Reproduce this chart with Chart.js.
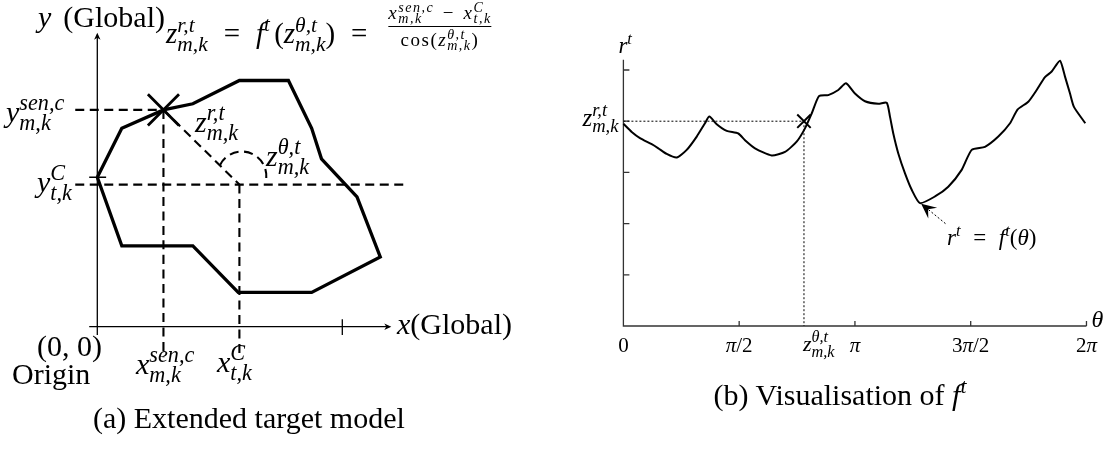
<!DOCTYPE html>
<html><head><meta charset="utf-8">
<script src="https://cdn.jsdelivr.net/npm/chart.js@4.4.1/dist/chart.umd.min.js"></script>
<style>
html,body{margin:0;padding:0;background:#fff;}
#wrap{position:relative;width:1105px;height:450px;overflow:hidden;background:#fff;}
.cv{position:absolute;top:0;}
.lbl{position:absolute;white-space:nowrap;font-family:"Liberation Serif","Times New Roman",serif;line-height:1.3;color:#000;}
.lbl i{font-style:italic;}
.ss{display:inline-block;vertical-align:-0.338em;font-size:0.74em;line-height:0.88;font-style:italic;text-align:left;}
.ss>span{display:block;}
.sp{font-size:0.72em;vertical-align:0.56em;line-height:0;font-style:italic;}
.rel{margin:0 0.55em;}
.frac{display:flex;flex-direction:column;align-items:center;line-height:0.9;letter-spacing:1.5px;}
.frac .ss{line-height:0.8;vertical-align:-0.3em;}
.frac .bar{align-self:stretch;border-top:1.3px solid #000;height:0;margin:1px 0 2px 0;}
</style></head>
<body><div id="wrap">
<canvas id="cA" class="cv" width="560" height="450" style="left:0;width:560px;height:450px"></canvas>
<canvas id="cB" class="cv" width="545" height="450" style="left:560px;width:545px;height:450px"></canvas>
</div>
<script>
// ---------- (a) Extended target model : data in "Global" units ----------
const polyX = [0, 1, 2.7, 3.9, 5.8, 7.8, 8.75, 9.15, 10.6, 11.55, 8.75, 5.75, 3.9, 1, 0];
const polyY = [6.1, 8.1, 8.85, 9.1, 10.05, 10.05, 8.1, 6.85, 5.3, 2.85, 1.4, 1.4, 3.3, 3.3, 6.1];
const sensorPt = [2.7, 8.85];     // (x^{sen,c}, y^{sen,c})
const centrePt = [5.8, 5.8];      // (x^C, y^C)
const axisEndA = 12;              // both axes end
const xTickA = 10;
const yTickA = 6.1;
const guideLeft = -0.9, guideRight = 12.5, guideBottom = -1.25;
const arcCentre = [5.9, 6.15], arcRadius = 1.0, arcFromDeg = -17, arcToDeg = 153;

// ---------- (b) Visualisation of f^t ----------
const thetaVals = [0, 0.113, 0.225, 0.384, 0.474, 0.588, 0.723, 0.859, 0.995, 1.107,
  1.166, 1.266, 1.402, 1.559, 1.650, 1.786, 2.012, 2.193, 2.351, 2.464,
  2.555, 2.654, 2.780, 2.916, 3.020, 3.142, 3.278, 3.459, 3.573, 3.617,
  3.662, 3.730, 3.821, 3.912, 4.024, 4.228, 4.408, 4.590, 4.726, 4.906,
  5.087, 5.246, 5.350, 5.494, 5.608, 5.720, 5.811, 5.924, 5.992, 6.060, 6.113, 6.267];
const rVals = [3.95, 3.79, 3.67, 3.55, 3.47, 3.36, 3.29, 3.44, 3.70, 3.96,
  4.09, 3.94, 3.81, 3.76, 3.63, 3.47, 3.33, 3.40, 3.60, 3.86,
  4.15, 4.49, 4.51, 4.61, 4.74, 4.54, 4.39, 4.34, 4.36, 4.09,
  3.76, 3.37, 2.98, 2.66, 2.40, 2.53, 2.72, 3.05, 3.44, 3.50,
  3.70, 3.96, 4.23, 4.38, 4.61, 4.86, 4.97, 5.18, 4.87, 4.54, 4.28, 3.96];
const zTheta = 2.45, zR = 4.0;
const xTickValsB = [0, Math.PI/2, Math.PI, 3*Math.PI/2, 2*Math.PI];
const xTickLabelsB = ['0', 'π/2', 'π', '3π/2', '2π'];
const yTickValsB = [1, 2, 3, 4, 5];
const rAxisTop = 5.2, thetaAxisEnd = 2*Math.PI;
const arrowTail = [4.37, 2.0], arrowTip = [4.04, 2.39];

// ---------- helpers ----------
const pts = (xs, ys) => xs.map((x, i) => ({x, y: ys[i]}));
const seg = (a, b) => [{x: a[0], y: a[1]}, {x: b[0], y: b[1]}];
const base = {animation:false, responsive:false, events:[], layout:{padding:0, autoPadding:false},
  plugins:{legend:{display:false}, tooltip:{enabled:false}},
  elements:{point:{radius:0}, line:{tension:0}}};

function stealth(ctx, x1, y1, x2, y2, len, half, notch){
  const a = Math.atan2(y2 - y1, x2 - x1), c = Math.cos(a), s = Math.sin(a);
  ctx.beginPath();
  ctx.moveTo(x2, y2);
  ctx.lineTo(x2 - len*c + half*s, y2 - len*s - half*c);
  ctx.lineTo(x2 - notch*c, y2 - notch*s);
  ctx.lineTo(x2 - len*c - half*s, y2 - len*s + half*c);
  ctx.closePath(); ctx.fill();
}

// ---------- chart (a) ----------
const U = 24.5; // px per unit (used only to set the view window)
const plugA = {id:'plugA',
  beforeDatasetsDraw(chart){
    const {ctx, scales:{x, y}} = chart;
    ctx.save();
    ctx.strokeStyle = '#000'; ctx.fillStyle = '#000'; ctx.lineWidth = 1.3;
    const ox = x.getPixelForValue(0), oy = y.getPixelForValue(0);
    const ex = x.getPixelForValue(axisEndA), ey = y.getPixelForValue(axisEndA);
    const under = y.getPixelForValue(-0.34), leftOf = x.getPixelForValue(-0.33);
    ctx.beginPath();
    ctx.moveTo(ox, under); ctx.lineTo(ox, ey + 2);
    ctx.moveTo(leftOf, oy); ctx.lineTo(ex - 2, oy);
    const tx = x.getPixelForValue(xTickA);
    ctx.moveTo(tx, y.getPixelForValue(-0.34)); ctx.lineTo(tx, y.getPixelForValue(0.3));
    const ty = y.getPixelForValue(yTickA);
    ctx.moveTo(x.getPixelForValue(-0.33), ty); ctx.lineTo(x.getPixelForValue(0.36), ty);
    ctx.stroke();
    stealth(ctx, ox, oy, ox, ey, 7, 3.2, 5);
    stealth(ctx, ox, oy, ex, oy, 7, 3.2, 5);
    const cx = x.getPixelForValue(arcCentre[0]), cy = y.getPixelForValue(arcCentre[1]);
    const rp = x.getPixelForValue(arcCentre[0] + arcRadius) - cx;
    ctx.lineWidth = 2.1; ctx.setLineDash([9, 5.5]);
    ctx.beginPath();
    ctx.arc(cx, cy, rp, -arcToDeg*Math.PI/180, -arcFromDeg*Math.PI/180);
    ctx.stroke();
    ctx.restore();
  }};
const dashStyle = {showLine:true, borderColor:'#000', borderWidth:2.1, borderDash:[9, 5.5], pointRadius:0};
new Chart(document.getElementById('cA'), {
  type:'scatter',
  data:{datasets:[
    {data: seg([guideLeft, sensorPt[1]], sensorPt), ...dashStyle},
    {data: seg([guideLeft, centrePt[1]], [guideRight, centrePt[1]]), ...dashStyle},
    {data: seg(sensorPt, [sensorPt[0], guideBottom]), ...dashStyle},
    {data: seg(centrePt, [centrePt[0], guideBottom]), ...dashStyle},
    {data: seg(sensorPt, centrePt), ...dashStyle},
    {data: pts(polyX, polyY), showLine:true, borderColor:'#000', borderWidth:3.3,
     borderJoinStyle:'miter', pointRadius:0},
    {data: [{x: sensorPt[0], y: sensorPt[1]}], pointStyle:'crossRot', pointRadius:22,
     pointBorderWidth:2.8, borderColor:'#000', backgroundColor:'#000'}
  ]},
  options:{...base,
    scales:{
      x:{type:'linear', display:false, min:-97.3/U, max:-97.3/U + 560/U},
      y:{type:'linear', display:false, max:326.7/U, min:326.7/U - 450/U}
    }},
  plugins:[plugA]
});

// ---------- chart (b) ----------
const PX = 73.7, PY = 51.2;
const plugB = {id:'plugB',
  beforeDatasetsDraw(chart){
    const {ctx, scales:{x, y}} = chart;
    ctx.save();
    ctx.strokeStyle = '#333'; ctx.lineWidth = 1.3;
    const ox = x.getPixelForValue(0), oy = y.getPixelForValue(0);
    ctx.beginPath();
    ctx.moveTo(ox, y.getPixelForValue(rAxisTop)); ctx.lineTo(ox, oy);
    ctx.lineTo(x.getPixelForValue(thetaAxisEnd), oy);
    yTickValsB.forEach(v => { const p = y.getPixelForValue(v); ctx.moveTo(ox, p); ctx.lineTo(ox + 6, p); });
    xTickValsB.slice(1).forEach(v => { const p = x.getPixelForValue(v); ctx.moveTo(p, oy); ctx.lineTo(p, oy - 5); });
    ctx.stroke();
    ctx.restore();
  },
  afterDatasetsDraw(chart){
    const {ctx, scales:{x, y}} = chart;
    ctx.save(); ctx.fillStyle = '#000';
    stealth(ctx, x.getPixelForValue(arrowTail[0]), y.getPixelForValue(arrowTail[1]),
            x.getPixelForValue(arrowTip[0]), y.getPixelForValue(arrowTip[1]), 15, 7, 9);
    ctx.restore();
  }};
const dotStyle = {showLine:true, borderColor:'#000', borderWidth:1, borderDash:[2, 2], pointRadius:0};
const chartB = new Chart(document.getElementById('cB'), {
  type:'scatter',
  data:{datasets:[
    {data: seg([0, zR], [zTheta, zR]), ...dotStyle},
    {data: seg([zTheta, zR], [zTheta, 0]), ...dotStyle},
    {data: seg(arrowTail, arrowTip), ...dotStyle},
    {data: pts(thetaVals, rVals), showLine:true, borderColor:'#000', borderWidth:2, pointRadius:0,
     tension:0.2},
    {data: [{x: zTheta, y: zR}], pointStyle:'crossRot', pointRadius:9.5,
     pointBorderWidth:2, borderColor:'#000'}
  ]},
  options:{...base,
    scales:{
      x:{type:'linear', display:false, min:-63.4/PX, max:-63.4/PX + 545/PX},
      y:{type:'linear', display:false, max:326/PY, min:326/PY - 450/PY}
    }},
  plugins:[plugB]
});

// ---------- text ----------
const wrap = document.getElementById('wrap');
const ss = (a, b) => `<span class="ss"><span>${a}</span><span>${b}</span></span>`;
const sp = a => `<span class="sp">${a}</span>`;
function put(html, x, baseY, size, align){
  const d = document.createElement('div');
  d.className = 'lbl'; d.style.fontSize = size + 'px'; d.innerHTML = html;
  d.style.top = (baseY - 0.9875*size) + 'px'; d.style.left = x + 'px';
  if (align === 'center') d.style.transform = 'translateX(-50%)';
  if (align === 'right') d.style.transform = 'translateX(-100%)';
  wrap.appendChild(d); return d;
}
// (a)
put(`<i>y</i><span style="margin-left:0.4em">(Global)</span>`, 38, 27, 30);
put(`<i>z</i>${ss('r,t','m,k')}<span class="rel">=</span><i>f</i>${sp('t')}<span style="margin-left:0.15em">(</span><i>z</i>${ss('θ,t','m,k')})<span class="rel">=</span>`, 166, 44, 29);
const fr = document.createElement('div');
fr.className = 'lbl frac'; fr.style.fontSize = '19px'; fr.style.left = '440px'; fr.style.top = '2px';
fr.style.transform = 'translateX(-50%)';
fr.innerHTML = `<div><i>x</i>${ss('sen,c','m,k')}<span style="margin:0 0.45em">−</span><i>x</i>${ss('C','t,k')}</div><div class="bar"></div><div>cos(<i>z</i>${ss('θ,t','m,k')})</div>`;
wrap.appendChild(fr);
put(`<i>y</i>${ss('sen,c','m,k')}`, 6, 122, 30);
put(`<i>z</i>${ss('r,t','m,k')}`, 195, 132, 30);
put(`<i>z</i>${ss('θ,t','m,k')}`, 266, 166, 30);
put(`<i>y</i>${ss('C','t,k')}`, 37, 192, 30);
put(`<i>x</i>(Global)`, 397, 334, 30);
put(`(0, 0)`, 37, 356, 30);
put(`Origin`, 12, 384, 30);
put(`<i>x</i>${ss('sen,c','m,k')}`, 136, 374, 30);
put(`<i>x</i>${ss('C','t,k')}`, 217, 372, 30);
put(`(a) Extended target model`, 93, 428, 30);
// (b)
const sx = chartB.scales.x, sy = chartB.scales.y, offB = 560;
xTickValsB.forEach((v, i) => put(xTickLabelsB[i].replace('π', '<i>π</i>'), offB + sx.getPixelForValue(v), 353, 21, 'center'));
put(`<i>z</i>${ss('θ,t','m,k')}`, offB + sx.getPixelForValue(zTheta) - 1, 352, 22);
put(`<i>z</i>${ss('r,t','m,k')}`, offB + sx.getPixelForValue(0) - 5, sy.getPixelForValue(zR) + 5, 25, 'right');
put(`<i>r</i>${sp('t')}`, offB + sx.getPixelForValue(0) - 5, 54, 23);
put(`<i>θ</i>`, offB + sx.getPixelForValue(thetaAxisEnd) + 5, 328, 24);
put(`<i>r</i>${sp('t')}<span class="rel">=</span><i>f</i>${sp('t')}(<i>θ</i>)`, 947, 246, 23);
put(`(b) Visualisation of <i>f</i>${sp('t')}`, 840, 405, 30, 'center');
</script></body></html>
